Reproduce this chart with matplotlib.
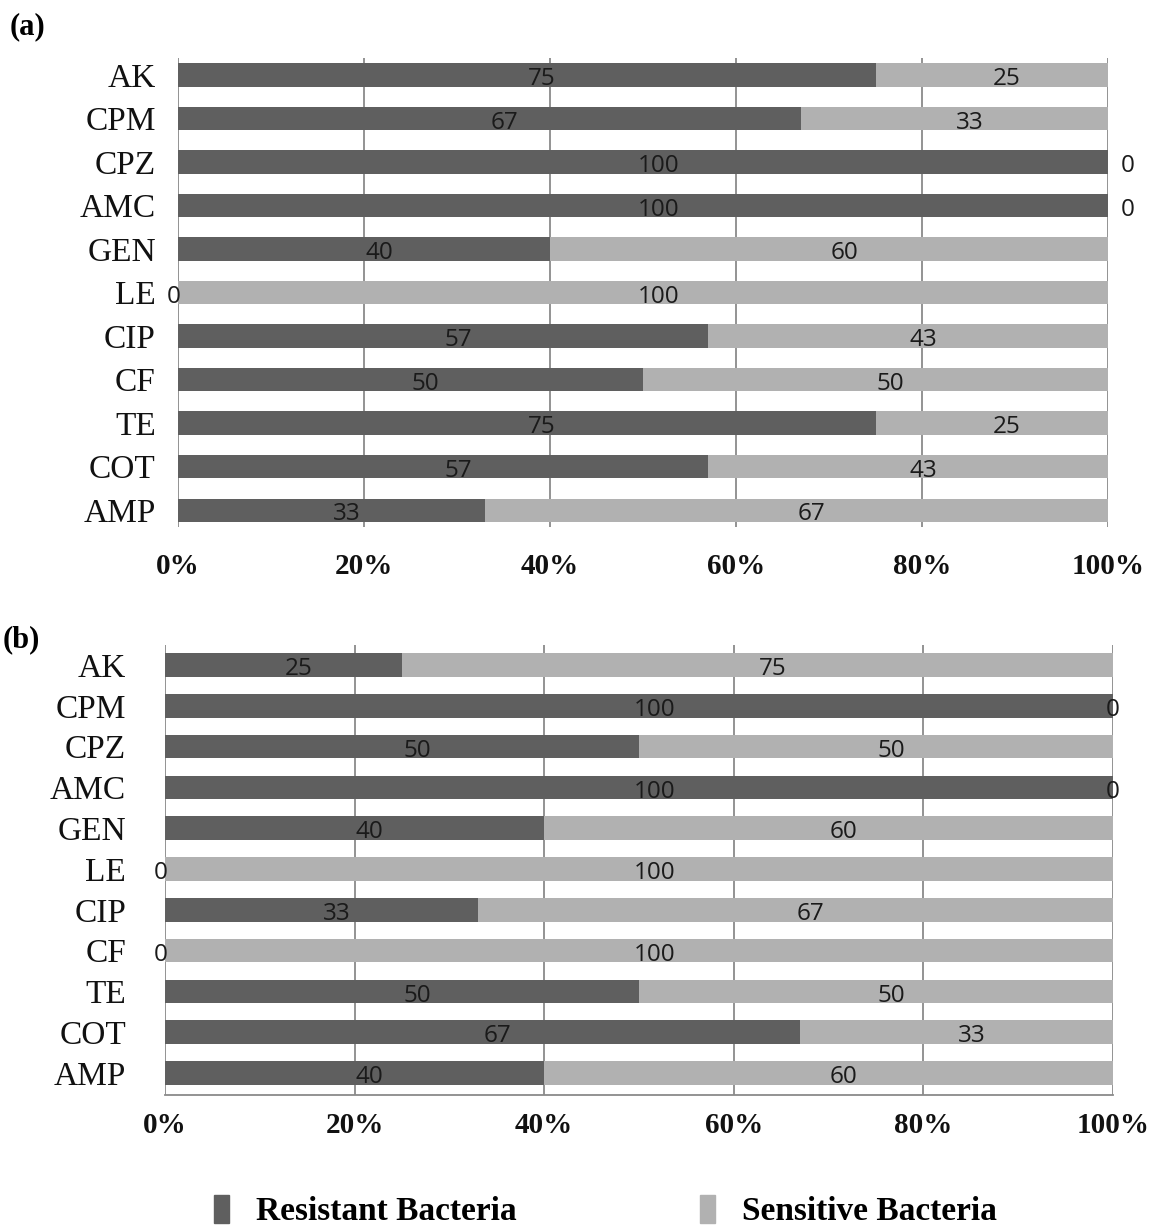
import numpy as np
import matplotlib.pyplot as plt
from matplotlib.patches import Patch

# antibiotics, top to bottom
drugs = ['AK', 'CPM', 'CPZ', 'AMC', 'GEN', 'LE', 'CIP', 'CF', 'TE', 'COT', 'AMP']

# percentage of isolates, panel (a)
resist_a = [75, 67, 100, 100, 40, 0, 57, 50, 75, 57, 33]
sens_a = [25, 33, 0, 0, 60, 100, 43, 50, 25, 43, 67]

# percentage of isolates, panel (b)
resist_b = [25, 100, 50, 100, 40, 0, 33, 0, 50, 67, 40]
sens_b = [75, 0, 50, 0, 60, 100, 67, 100, 50, 33, 60]

ticks = [0, 20, 40, 60, 80, 100]
tick_labels = ['0%', '20%', '40%', '60%', '80%', '100%']

dark = '#5f5f5f'
light = '#b1b1b1'
serif = 'Liberation Serif'
sans = 'Open Sans'


def panel(ax, resist, sens, bar_h, ylim, ypad, xpad, zero_dx, bottom_line):
    y = np.arange(len(drugs))
    resist = np.array(resist)
    sens = np.array(sens)
    ax.barh(y, resist, height=bar_h, color=dark, zorder=3)
    ax.barh(y, sens, left=resist, height=bar_h, color=light, zorder=3)

    # value labels, centred on each segment
    for i in range(len(drugs)):
        for left, val in ((0, resist[i]), (resist[i], sens[i])):
            if val == 0:
                dx = -3 if left == 0 else zero_dx
                xc = left
            else:
                dx = 11
                xc = left + val / 2
            ax.annotate(str(val), (xc, y[i]), xytext=(dx, -3),
                        textcoords='offset points', ha='center', va='center',
                        fontsize=17.5, family=sans, color='#1a1a1a', zorder=5,
                        annotation_clip=False)

    ax.set_xlim(0, 100)
    ax.set_ylim(*ylim)
    ax.set_yticks(y)
    ax.set_yticklabels(drugs, family=serif, fontsize=24, color='#111111')
    ax.set_xticks(ticks)
    ax.set_xticklabels(tick_labels, family=serif, fontsize=21,
                       fontweight='bold', color='#111111')
    ax.tick_params(axis='y', length=0, pad=ypad)
    ax.tick_params(axis='x', length=0, pad=xpad)
    for x in ticks:
        ax.axvline(x, color='#8a8a8a', lw=1.3, zorder=1)
    for s in ax.spines.values():
        s.set_visible(False)
    if bottom_line:
        ax.spines['bottom'].set_visible(True)
        ax.spines['bottom'].set_color('#8a8a8a')
        ax.spines['bottom'].set_linewidth(1.3)


fig = plt.figure(figsize=(11.53, 12.27), dpi=100)

ax1 = fig.add_axes([0.1544, 0.5705, 0.8066, 0.3822])
panel(ax1, resist_a, sens_a, 0.53, (10.39, -0.39), 16, 19, 14, False)

ax2 = fig.add_axes([0.1431, 0.1076, 0.8222, 0.3667])
panel(ax2, resist_b, sens_b, 0.58, (10.54, -0.49), 28, 12, 0, True)

fig.text(0.008, 0.978, '(a)', family=serif, fontsize=22, fontweight='bold',
         va='center', ha='left')
fig.text(0.002, 0.479, '(b)', family=serif, fontsize=22, fontweight='bold',
         va='center', ha='left')

handles = [Patch(color=dark, label='Resistant Bacteria'),
           Patch(color=light, label='Sensitive Bacteria')]
fig.legend(handles=handles, loc='center', bbox_to_anchor=(0.525, 0.013),
           ncol=2, frameon=False, handlelength=0.45, handleheight=0.9,
           handletextpad=0.8, columnspacing=5.5,
           prop={'family': serif, 'size': 24, 'weight': 'bold'})

fig.savefig('out.png', dpi=100, facecolor='white')
